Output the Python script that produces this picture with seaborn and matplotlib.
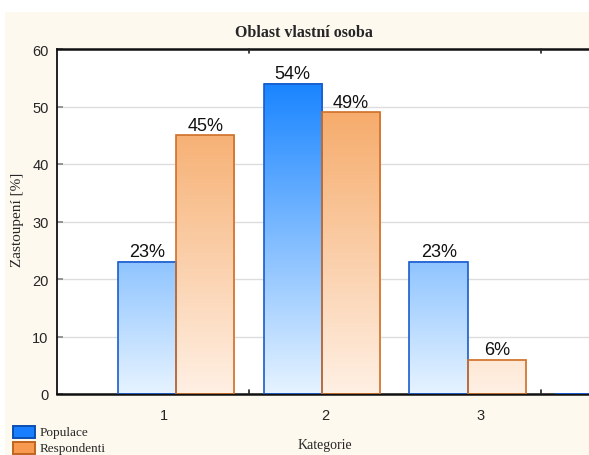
import numpy as np
import pandas as pd
import matplotlib
matplotlib.use("Agg")
import matplotlib.pyplot as plt
from matplotlib.patches import Rectangle
from matplotlib.colors import LinearSegmentedColormap, Normalize
import seaborn as sns

# ---- data ----
categories = ["1", "2", "3", "4"]
populace = [23, 54, 23, 0]
respondenti = [45, 49, 6, 0]
series_names = ["Populace", "Respondenti"]
tick_labels = ["1", "2", "3"]
title = "Oblast vlastní osoba"
ylabel = "Zastoupení [%]"
xlabel = "Kategorie"

df = pd.DataFrame({
    "Kategorie": categories * 2,
    "Hodnota": populace + respondenti,
    "Skupina": [series_names[0]] * len(categories) + [series_names[1]] * len(categories),
})

sns.set_theme(style="white")
plt.rcParams["font.family"] = ["Liberation Sans", "DejaVu Sans"]

fig = plt.figure(figsize=(5.89, 4.56), dpi=100)
fig.patch.set_facecolor("white")
fig.add_artist(Rectangle((5 / 589, 0), 1, (456 - 13) / 456, transform=fig.transFigure,
                         facecolor="#fdf9ee", edgecolor="none", zorder=-10))

ax = fig.add_axes([57 / 589, (456 - 395) / 456, 1 - 57 / 589, (395 - 50) / 456])
ax.set_facecolor("white")

edge_cols = {"Populace": "#1a5ccc", "Respondenti": "#cf6f28"}
sns.barplot(data=df, x="Kategorie", y="Hodnota", hue="Skupina", ax=ax,
            palette={"Populace": "#1a85ff", "Respondenti": "#f5a560"},
            width=0.8, legend=False, saturation=1)

cmaps = {
    "Populace": LinearSegmentedColormap.from_list("b", ["#e6f3ff", "#1a85ff"]),
    "Respondenti": LinearSegmentedColormap.from_list("o", ["#fff0e4", "#f5a560"]),
}
norm = Normalize(0, 54)

for cont, name in zip(ax.containers, series_names):
    for bar in cont:
        x0 = bar.get_x()
        w = bar.get_width()
        h = bar.get_height()
        if h > 0:
            ys = np.linspace(0, h, 200)[::-1].reshape(-1, 1)
            rgba = cmaps[name](norm(ys))
            ax.imshow(rgba, extent=(x0, x0 + w, 0, h), aspect="auto",
                      zorder=2, interpolation="bilinear")
            bar.set_linewidth(1.2)
        else:
            bar.set_linewidth(2.0)
        bar.set_facecolor("none")
        bar.set_edgecolor(edge_cols[name])
        bar.set_zorder(3)
    labels = [f"{v:g}%" if v > 0 else "" for v in cont.datavalues]
    ax.bar_label(cont, labels=labels, padding=1, fontsize=13, color="#111111", zorder=4)

ax.set_xlim(-0.815, 2.83)
ax.set_ylim(0, 60)
ax.set_yticks(np.arange(0, 61, 10))
ax.yaxis.grid(True, color="#dddddd", linewidth=1)
ax.set_axisbelow(True)
ax.tick_params(axis="y", direction="in", length=4, color="#888888", labelsize=10.5,
               pad=6, left=True)
ax.set_xticks([-0.08, 1.02, 2.09])
ax.set_xticklabels(tick_labels)
ax.tick_params(axis="x", length=0, labelsize=10.5, pad=10)

# small inner ticks on bottom / top spines
for xv in [0.5, 2.5]:
    ax.plot([xv, xv], [0, 0.7], color="#222222", lw=1.2, zorder=5, clip_on=False)
    ax.plot([xv, xv], [60, 59.3], color="#222222", lw=1.2, zorder=5, clip_on=False)

for s in ["left", "bottom", "top"]:
    ax.spines[s].set_visible(True)
    ax.spines[s].set_color("#111111")
ax.spines["left"].set_linewidth(1.3)
ax.spines["bottom"].set_linewidth(1.8)
ax.spines["top"].set_linewidth(1.8)
ax.spines["right"].set_visible(False)

ax.set_xlabel("")
ax.set_ylabel("")

serif = ["Liberation Serif", "DejaVu Serif"]
fig.text(304 / 589, 1 - 33 / 456, title, ha="center", va="center", family=serif,
         fontsize=11.5, fontweight="bold")
fig.text(18 / 589, 1 - 220 / 456, ylabel, ha="center", va="center", rotation=90,
         family=serif, fontsize=11)
fig.text(325 / 589, 1 - 446 / 456, xlabel, ha="center", va="center", family=serif,
         fontsize=10)

# legend
legend_fc = {"Populace": "#1a7fff", "Respondenti": "#f79a50"}
legend_ec = {"Populace": "#0a4fb0", "Respondenti": "#c0641f"}
for i, name in enumerate(series_names):
    ytop = 427 + i * 16
    fig.add_artist(Rectangle((13 / 589, 1 - (ytop + 12) / 456), 22 / 589, 12 / 456,
                             transform=fig.transFigure, facecolor=legend_fc[name],
                             edgecolor=legend_ec[name], linewidth=1.4))
    fig.text(40 / 589, 1 - (ytop + 6.5) / 456, name, ha="left", va="center",
             family=serif, fontsize=9.5)

fig.savefig("out.png", dpi=100)
